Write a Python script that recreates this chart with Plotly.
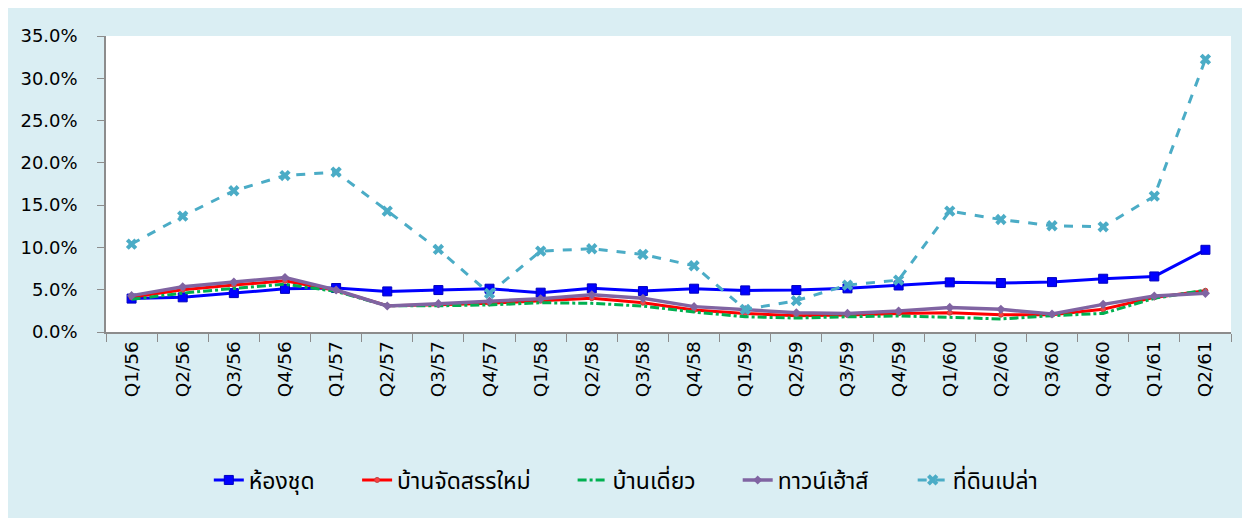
import plotly.graph_objects as go

# quarters (Thai Buddhist years)
quarters = ["Q1/56", "Q2/56", "Q3/56", "Q4/56", "Q1/57", "Q2/57", "Q3/57", "Q4/57",
            "Q1/58", "Q2/58", "Q3/58", "Q4/58", "Q1/59", "Q2/59", "Q3/59", "Q4/59",
            "Q1/60", "Q2/60", "Q3/60", "Q4/60", "Q1/61", "Q2/61"]

# values in %
condo = [3.95, 4.1, 4.6, 5.1, 5.2, 4.8, 4.96, 5.12, 4.65, 5.16, 4.84, 5.12,
         4.92, 4.96, 5.16, 5.5, 5.87, 5.79, 5.9, 6.3, 6.57, 9.72]
new_estate = [4.1, 5.0, 5.55, 6.05, 4.9, 3.1, 3.23, 3.39, 3.7, 4.0, 3.46, 2.6,
              2.2, 1.93, 2.0, 2.2, 2.28, 2.05, 2.05, 2.68, 4.09, 4.88]
detached = [3.86, 4.6, 5.15, 5.65, 4.8, 3.1, 3.1, 3.2, 3.46, 3.39, 3.07, 2.36,
            1.8, 1.65, 1.8, 1.9, 1.73, 1.54, 1.93, 2.2, 3.98, 4.96]
townhouse = [4.3, 5.35, 5.9, 6.45, 4.96, 3.07, 3.35, 3.66, 3.94, 4.4, 3.98, 3.0,
             2.64, 2.28, 2.2, 2.48, 2.91, 2.68, 2.13, 3.27, 4.25, 4.57]
land = [10.4, 13.7, 16.7, 18.5, 18.9, 14.3, 9.76, 4.57, 9.57, 9.84, 9.17, 7.83,
        2.68, 3.7, 5.55, 6.14, 14.3, 13.3, 12.56, 12.44, 16.06, 32.24]

names = ["ห้องชุด", "บ้านจัดสรรใหม่", "บ้านเดี่ยว", "ทาวน์เฮ้าส์", "ที่ดินเปล่า"]

def pct(v):
    return [x / 100 for x in v]

W, H = 1250, 518
ml, mr, mt, mb = 85, 27, 28, 194
pw, ph = W - ml - mr, H - mt - mb

# each legend entry gets its own legend box so the spacing can follow the original
legend_left = [189, 339, 557, 724, 901]
legend_names = ["legend", "legend2", "legend3", "legend4", "legend5"]

fig = go.Figure()
fig.add_trace(go.Scatter(x=quarters, y=pct(condo), name=names[0], mode="lines+markers",
                         legend=legend_names[0],
                         line=dict(color="#0000FF", width=3),
                         marker=dict(symbol="square", size=9, color="#0000FF",
                                     line=dict(color="#0000C0", width=1))))
fig.add_trace(go.Scatter(x=quarters, y=pct(new_estate), name=names[1], mode="lines+markers",
                         legend=legend_names[1],
                         line=dict(color="#FF0000", width=3),
                         marker=dict(symbol="circle", size=5, color="#FF4040",
                                     line=dict(color="#C04040", width=1))))
fig.add_trace(go.Scatter(x=quarters, y=pct(detached), name=names[2], mode="lines",
                         legend=legend_names[2],
                         line=dict(color="#00B050", width=3, dash="dashdot")))
fig.add_trace(go.Scatter(x=quarters, y=pct(townhouse), name=names[3], mode="lines+markers",
                         legend=legend_names[3],
                         line=dict(color="#8064A2", width=3.5),
                         marker=dict(symbol="diamond", size=7, color="#8064A2")))
fig.add_trace(go.Scatter(x=quarters, y=pct(land), name=names[4], mode="lines+markers",
                         legend=legend_names[4],
                         line=dict(color="#4BACC6", width=3, dash="dash"),
                         marker=dict(symbol="x", size=10, color="#4BACC6")))

legend_style = dict(orientation="h", yanchor="middle", y=(324 - 472) / ph, xanchor="left",
                    font=dict(size=23, family="Noto Sans Thai, Tahoma, sans-serif"),
                    bgcolor="rgba(0,0,0,0)")
legends = {}
for key, left in zip(legend_names, legend_left):
    legends[key] = dict(legend_style, x=(left - ml) / pw)

fig.update_layout(
    width=W, height=H,
    margin=dict(l=ml, r=mr, t=mt, b=mb),
    paper_bgcolor="#DAEEF3", plot_bgcolor="white",
    font=dict(family="DejaVu Sans", size=18, color="black"),
    showlegend=True,
    xaxis=dict(type="category", tickangle=-90, showgrid=False, showline=True,
               linecolor="#8C8C8C", linewidth=1.5, ticks="outside", ticklen=8,
               tickcolor="#8C8C8C", tickson="boundaries", range=[-0.5, len(quarters) - 0.5],
               tickfont=dict(size=18.5)),
    yaxis=dict(range=[0, 0.35], dtick=0.05, tickformat=".1%", showgrid=False,
               showline=True, linecolor="#8C8C8C", linewidth=1.5, ticks="outside",
               ticklen=7, tickcolor="#8C8C8C", ticklabelstandoff=16, zeroline=False),
    **legends,
)

fig.write_html("out.html")
